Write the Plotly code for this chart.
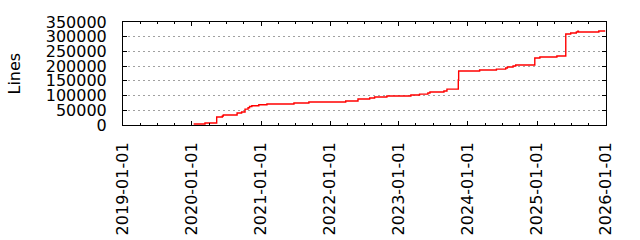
import plotly.graph_objects as go

dates = [
    "2020-01-10", "2020-03-10", "2020-05-11", "2020-06-10", "2020-06-15",
    "2020-08-27", "2020-09-20", "2020-10-08", "2020-10-24", "2020-11-01",
    "2020-11-13", "2020-12-20", "2021-02-01", "2021-06-24", "2021-09-11",
    "2022-03-25", "2022-05-29", "2022-07-30", "2022-08-25", "2022-10-29",
    "2023-03-05", "2023-04-20", "2023-06-03", "2023-06-14", "2023-08-27",
    "2023-09-12", "2023-11-11", "2023-11-13", "2024-03-03", "2024-05-31",
    "2024-07-19", "2024-07-28", "2024-08-27", "2024-09-10", "2024-12-20",
    "2025-01-16", "2025-04-16", "2025-06-02", "2025-06-28", "2025-07-28",
    "2025-08-05", "2025-08-08", "2025-11-24", "2025-12-28",
]
lines = [
    3400, 6800, 27000, 30600, 34000,
    40800, 44000, 54000, 58800, 63000,
    65500, 69000, 71300, 74700, 78000,
    81500, 88300, 91700, 95000, 98500,
    102000, 105000, 108700, 112000, 115500,
    122000, 153000, 183500, 187000, 190000,
    193700, 197000, 200500, 204000, 227600,
    231000, 234500, 309000, 312600, 316000,
    319000, 316000, 319400, 319400,
]
y_ticks = [0, 50000, 100000, 150000, 200000, 250000, 300000, 350000]
x_range = ["2019-01-01", "2026-01-01"]

FONT = "DejaVu Sans"

fig = go.Figure()
fig.add_trace(go.Scatter(
    x=dates, y=lines, mode="lines",
    line=dict(color="#ff0000", width=1.4, shape="hv"),
    showlegend=False, hoverinfo="skip",
))

fig.update_layout(
    width=640, height=240,
    margin=dict(l=123, r=34, t=22, b=115, autoexpand=False),
    paper_bgcolor="white", plot_bgcolor="white",
    font=dict(family=FONT, size=16, color="black"),
    showlegend=False,
)

fig.update_xaxes(
    type="date", range=x_range, automargin=False,
    dtick="M12", tick0="2019-01-01", tickformat="%Y-%m-%d",
    tickangle=-90,
    ticks="inside", ticklen=4, tickcolor="black", tickwidth=1,
    minor=dict(dtick="M3", ticks="inside", ticklen=2, tickcolor="black", showgrid=False),
    showline=True, linecolor="black", linewidth=1, mirror="ticks",
    showgrid=False, zeroline=False,
    ticklabelstandoff=10,
    tickfont=dict(family=FONT, size=16, color="black"),
)

fig.update_yaxes(
    range=[0, 350000], tickvals=y_ticks, tickformat="d", automargin=False,
    ticks="inside", ticklen=4, tickcolor="black", tickwidth=1,
    showline=True, linecolor="black", linewidth=1, mirror="ticks",
    showgrid=True, gridcolor="#a0a0a0", griddash="2px,3px", gridwidth=1,
    zeroline=False,
    ticklabelstandoff=12,
    tickfont=dict(family=FONT, size=16, color="black"),
)

fig.add_annotation(
    text="Lines", textangle=-90,
    xref="paper", yref="paper", x=0, y=0.5,
    xanchor="center", yanchor="middle", xshift=-109,
    showarrow=False, font=dict(family=FONT, size=16, color="black"),
)

fig.write_html("out.html")
